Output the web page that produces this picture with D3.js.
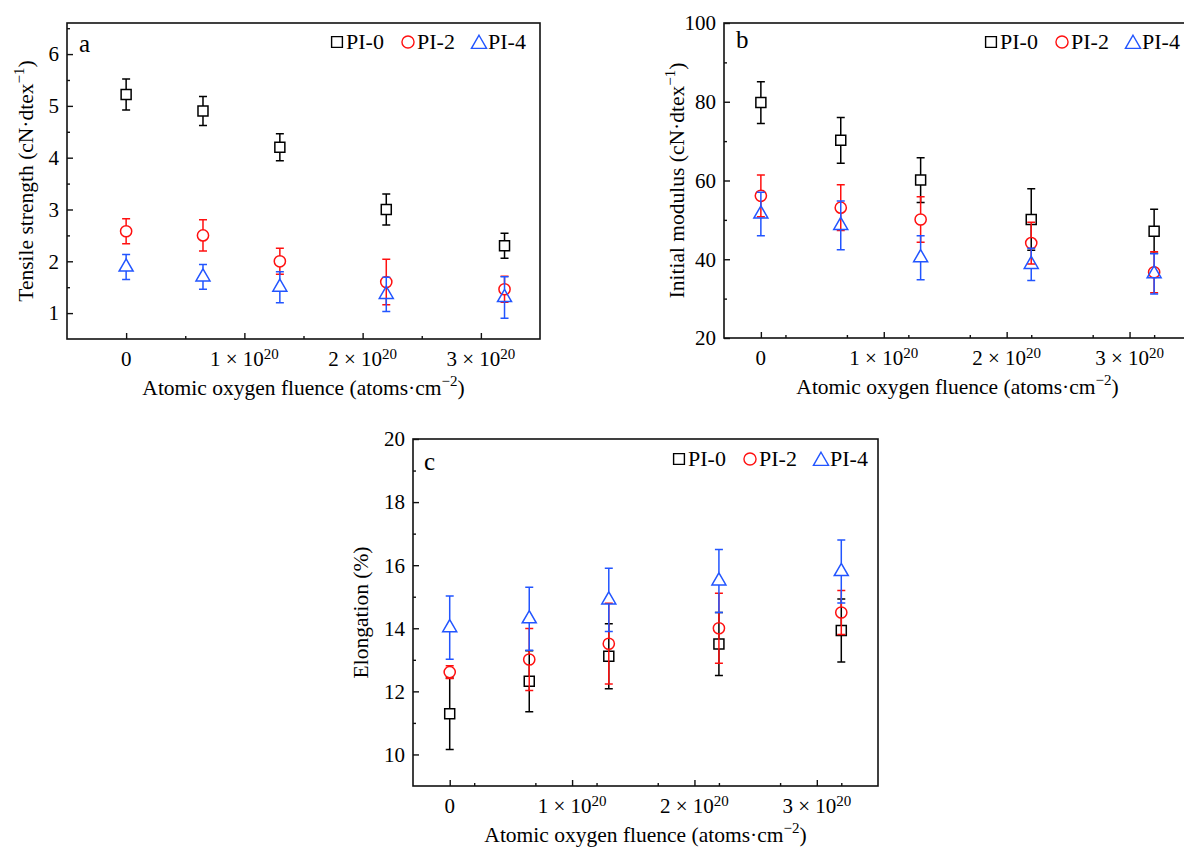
<!DOCTYPE html>
<html>
<head>
<meta charset="utf-8">
<script src="https://cdn.jsdelivr.net/npm/d3@7"></script>
<style>
  html, body { margin: 0; padding: 0; background: #fff; }
  svg { display: block; }
  text { font-family: "Liberation Serif", "Times New Roman", serif; fill: #000; }
</style>
</head>
<body>
<svg id="chart" width="1184" height="848"></svg>
<script>
// Atomic oxygen fluence, in units of 10^20 atoms·cm^-2
const fluence = [0, 0.65, 1.3, 2.2, 3.2];

const seriesNames = ["PI-0", "PI-2", "PI-4"];
const seriesColors = ["#000000", "#ff1010", "#2255ff"];
const seriesShapes = ["square", "circle", "triangle"];

// (a) Tensile strength, cN·dtex^-1
const tensilePI0 = [5.22, 4.90, 4.20, 3.00, 2.30];
const tensilePI0Err = [0.30, 0.28, 0.26, 0.30, 0.24];
const tensilePI2 = [2.58, 2.50, 2.00, 1.60, 1.46];
const tensilePI2Err = [0.24, 0.30, 0.25, 0.44, 0.25];
const tensilePI4 = [1.89, 1.70, 1.50, 1.36, 1.30];
const tensilePI4Err = [0.24, 0.24, 0.30, 0.33, 0.40];

// (b) Initial modulus, cN·dtex^-1
const modulusPI0 = [79.8, 70.2, 60.1, 50.1, 47.1];
const modulusPI0Err = [5.3, 5.8, 5.7, 7.8, 5.6];
const modulusPI2 = [56.1, 53.1, 50.1, 44.1, 36.7];
const modulusPI2Err = [5.3, 5.8, 5.8, 5.3, 5.2];
const modulusPI4 = [51.5, 48.6, 40.4, 38.7, 36.3];
const modulusPI4Err = [5.5, 6.2, 5.6, 4.1, 5.1];

// (c) Elongation, %
const elongPI0 = [11.29, 12.32, 13.11, 13.50, 13.93];
const elongPI0Err = [1.13, 0.97, 1.03, 1.00, 1.00];
const elongPI2 = [12.61, 13.01, 13.51, 14.00, 14.50];
const elongPI2Err = [0.20, 0.98, 1.28, 1.11, 0.70];
const elongPI4 = [14.02, 14.30, 14.90, 15.50, 15.80];
const elongPI4Err = [1.00, 1.00, 1.00, 1.00, 1.00];

// Axis ticks
const xTickValues = [0, 1, 2, 3];
const xTickExponent = "20";
const tensileTicks = [1, 2, 3, 4, 5, 6];
const modulusTicks = [20, 40, 60, 80, 100];
const elongTicks = [10, 12, 14, 16, 18, 20];

const xTitle = ["Atomic oxygen fluence (atoms·cm", "\u22122", ")"];

const svg = d3.select("#chart");

const TICK_FONT = 21;
const TITLE_FONT = 21.5;
const LEGEND_FONT = 22;
const SUP = 15;

function series(means, errs) {
  return means.map((m, i) => ({ mean: m, err: errs[i] }));
}

const panels = [
  {
    letter: "a", left: 67, right: 540, top: 23, bottom: 339,
    xDomain: [-0.5, 3.5], yDomain: [0.5, 6.6],
    yTicks: tensileTicks, yMinorStep: 0.5,
    yTitle: ["Tensile strength (cN·dtex", "\u22121", ")"], yTitleX: 33,
    letterDx: 12, letterDy: 29, legendDx: 270, legendDy: 19,
    data: [series(tensilePI0, tensilePI0Err), series(tensilePI2, tensilePI2Err), series(tensilePI4, tensilePI4Err)]
  },
  {
    letter: "b", left: 724, right: 1191, top: 23, bottom: 338,
    xDomain: [-0.3, 3.5], yDomain: [20, 100],
    yTicks: modulusTicks, yMinorStep: 10,
    yTitle: ["Initial modulus (cN·dtex", "\u22121", ")"], yTitleX: 684,
    letterDx: 12, letterDy: 25, legendDx: 267, legendDy: 19,
    data: [series(modulusPI0, modulusPI0Err), series(modulusPI2, modulusPI2Err), series(modulusPI4, modulusPI4Err)]
  },
  {
    letter: "c", left: 413, right: 878, top: 439, bottom: 786,
    xDomain: [-0.3, 3.5], yDomain: [9, 20],
    yTicks: elongTicks, yMinorStep: 1,
    yTitle: ["Elongation (%)"], yTitleX: 368,
    letterDx: 11, letterDy: 31, legendDx: 266, legendDy: 20,
    data: [series(elongPI0, elongPI0Err), series(elongPI2, elongPI2Err), series(elongPI4, elongPI4Err)]
  }
];

// Marker outlines; "up"/"down" give the extent above/below the centre so
// error bars start at the edge of the symbol.
function markerPath(shape, scale) {
  const k = scale || 1;
  if (shape === "square") {
    const s = 10 * k;
    return { d: d3.symbol(d3.symbolSquare, s * s)(), up: s / 2, down: s / 2 };
  }
  if (shape === "circle") {
    const r = 5.6 * k;
    return { d: d3.symbol(d3.symbolCircle, Math.PI * r * r)(), up: r, down: r };
  }
  const side = 14 * k;
  const h = side * Math.sqrt(3) / 2;
  return { d: d3.symbol(d3.symbolTriangle, Math.sqrt(3) / 4 * side * side)(), up: 2 * h / 3, down: h / 3 };
}

function addSupText(sel, parts, supDy) {
  sel.append("tspan").text(parts[0]);
  if (parts.length > 1) {
    sel.append("tspan").attr("dy", -supDy).attr("font-size", SUP).text(parts[1]);
    sel.append("tspan").attr("dy", supDy).text(parts[2]);
  }
}

panels.forEach(p => {
  const g = svg.append("g");
  const x = d3.scaleLinear().domain(p.xDomain).range([p.left, p.right]);
  const y = d3.scaleLinear().domain(p.yDomain).range([p.bottom, p.top]);

  // Frame
  g.append("rect")
    .attr("x", p.left).attr("y", p.top)
    .attr("width", p.right - p.left).attr("height", p.bottom - p.top)
    .attr("fill", "none").attr("stroke", "#111").attr("stroke-width", 1.6);

  // X axis (ticks pointing inward)
  const xMinor = d3.range(p.xDomain[0], p.xDomain[1] + 1e-9, 0.5)
    .filter(v => !xTickValues.includes(v) && v > p.xDomain[0] + 1e-9 && v < p.xDomain[1] - 1e-9);
  const xAxisMajor = d3.axisBottom(x).tickValues(xTickValues).tickSizeInner(-6).tickSizeOuter(0).tickFormat("");
  const xAxisMinor = d3.axisBottom(x).tickValues(xMinor).tickSizeInner(-3).tickSizeOuter(0).tickFormat("");
  [xAxisMajor, xAxisMinor].forEach(ax => {
    const a = g.append("g").attr("transform", `translate(0,${p.bottom})`).call(ax);
    a.select(".domain").remove();
    a.selectAll("line").attr("stroke", "#111").attr("stroke-width", 1.4);
  });
  xTickValues.forEach(v => {
    const t = g.append("text")
      .attr("x", x(v)).attr("y", p.bottom + 27)
      .attr("text-anchor", "middle").attr("font-size", TICK_FONT);
    if (v === 0) {
      t.text("0");
    } else {
      t.append("tspan").text(`${v} \u00d7 10`);
      t.append("tspan").attr("dy", -7).attr("font-size", SUP).text(xTickExponent);
    }
  });

  // Y axis (ticks pointing inward)
  const yMinor = d3.range(p.yDomain[0], p.yDomain[1] + 1e-9, p.yMinorStep)
    .map(v => +v.toFixed(4))
    .filter(v => !p.yTicks.includes(v) && v > p.yDomain[0] + 1e-9 && v < p.yDomain[1] - 1e-9);
  const yAxisMajor = d3.axisLeft(y).tickValues(p.yTicks).tickSizeInner(-6).tickSizeOuter(0).tickFormat("");
  const yAxisMinor = d3.axisLeft(y).tickValues(yMinor).tickSizeInner(-3).tickSizeOuter(0).tickFormat("");
  [yAxisMajor, yAxisMinor].forEach(ax => {
    const a = g.append("g").attr("transform", `translate(${p.left},0)`).call(ax);
    a.select(".domain").remove();
    a.selectAll("line").attr("stroke", "#111").attr("stroke-width", 1.4);
  });
  g.selectAll(null).data(p.yTicks).join("text")
    .attr("x", p.left - 8).attr("y", d => y(d))
    .attr("dy", "0.35em").attr("text-anchor", "end").attr("font-size", TICK_FONT)
    .text(d => d);

  // Axis titles
  const xt = g.append("text")
    .attr("x", (p.left + p.right) / 2)
    .attr("y", p.bottom + 56)
    .attr("text-anchor", "middle").attr("font-size", TITLE_FONT);
  addSupText(xt, xTitle, 9);

  const yt = g.append("text")
    .attr("transform", `translate(${p.yTitleX},${(p.top + p.bottom) / 2}) rotate(-90)`)
    .attr("text-anchor", "middle").attr("font-size", TITLE_FONT);
  addSupText(yt, p.yTitle, 9);

  // Panel letter
  g.append("text")
    .attr("x", p.left + p.letterDx).attr("y", p.top + p.letterDy)
    .attr("font-size", 25).text(p.letter);

  // Error bars and markers
  p.data.forEach((pts, si) => {
    const color = seriesColors[si];
    const m = markerPath(seriesShapes[si]);
    const sg = g.append("g");
    pts.forEach((d, i) => {
      const cx = x(fluence[i]);
      const cy = y(d.mean);
      const yTop = y(d.mean + d.err);
      const yBot = y(d.mean - d.err);
      const cap = 4;
      const path = d3.path();
      if (cy - m.up > yTop) { path.moveTo(cx, cy - m.up); path.lineTo(cx, yTop); }
      path.moveTo(cx - cap, yTop); path.lineTo(cx + cap, yTop);
      if (cy + m.down < yBot) { path.moveTo(cx, cy + m.down); path.lineTo(cx, yBot); }
      path.moveTo(cx - cap, yBot); path.lineTo(cx + cap, yBot);
      sg.append("path").attr("d", path.toString())
        .attr("fill", "none").attr("stroke", color).attr("stroke-width", 1.5);
      sg.append("path").attr("d", m.d)
        .attr("transform", `translate(${cx},${cy})`)
        .attr("fill", "none").attr("stroke", color).attr("stroke-width", 1.5);
    });
  });

  // Legend
  const lx = p.left + p.legendDx;
  const ly = p.top + p.legendDy;
  seriesNames.forEach((name, si) => {
    const mx = lx + si * 71;
    const m = markerPath(seriesShapes[si], 1.08);
    g.append("path").attr("d", m.d)
      .attr("transform", `translate(${mx},${ly + (seriesShapes[si] === "triangle" ? 2 : 0)})`)
      .attr("fill", "none").attr("stroke", seriesColors[si]).attr("stroke-width", 1.4);
    g.append("text")
      .attr("x", mx + 9).attr("y", ly + 7)
      .attr("font-size", LEGEND_FONT).text(name);
  });
});
</script>
</body>
</html>
